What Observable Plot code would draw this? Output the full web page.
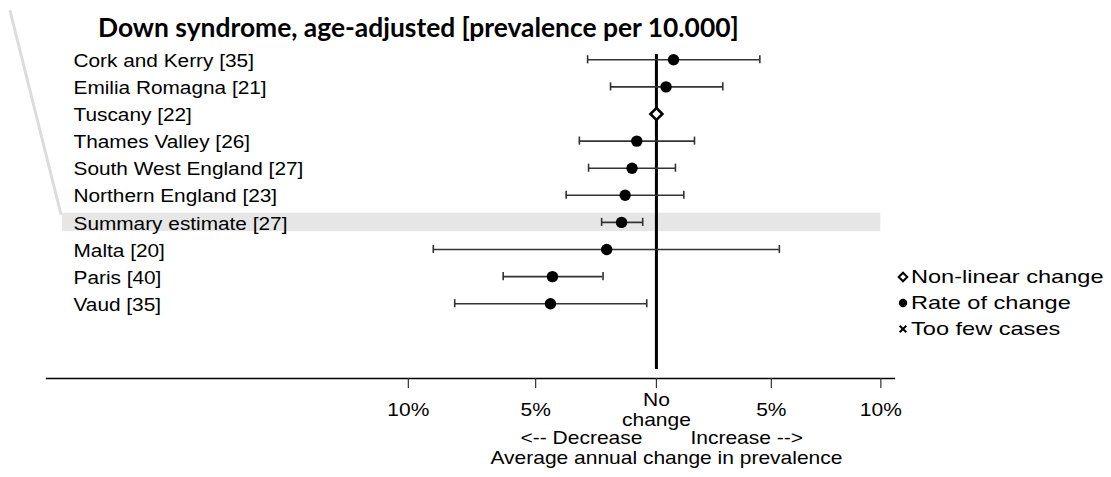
<!DOCTYPE html>
<html>
<head>
<meta charset="utf-8">
<script src="https://cdn.jsdelivr.net/npm/d3@7"></script>
<script src="https://cdn.jsdelivr.net/npm/@observablehq/plot@0.6"></script>
<style>
  body { margin: 0; background: #fff; }
  #wrap { position: relative; width: 1111px; height: 477px; overflow: hidden; }
  #title { position: absolute; left: 98px; top: 11px; font: bold 26.4px Lato, "Open Sans", sans-serif; color: #000; white-space: nowrap; }
  #chart { position: absolute; left: 0; top: 0; }
  #legend { position: absolute; left: 897px; top: 264px; font: 19px "Liberation Sans", Arial, sans-serif; color: #000; }
  #legend .item { height: 26px; display: flex; align-items: center; white-space: nowrap; }
  #legend svg { margin-right: 2px; flex: none; }
  #legend span { display: inline-block; transform: scale(1.24, 1); transform-origin: left center; }
</style>
</head>
<body>
<div id="wrap">
  <div id="chart"></div>
  <div id="title"></div>
  <div id="legend"></div>
</div>
<script>
// ---- data ----
const chartTitle = "Down syndrome, age-adjusted [prevalence per 10.000]";
const regions = [
  "Cork and Kerry [35]", "Emilia Romagna [21]", "Tuscany [22]", "Thames Valley [26]",
  "South West England [27]", "Northern England [23]", "Summary estimate [27]",
  "Malta [20]", "Paris [40]", "Vaud [35]"
];
const estimatePct = [0.73, 0.41, 0.0, -0.83, -1.03, -1.32, -1.47, -2.09, -4.32, -4.40];
const lowerPct    = [-2.88, -1.93, null, -3.22, -2.84, -3.76, -2.30, -9.04, -6.30, -8.21];
const upperPct    = [4.49, 2.86, null, 1.63, 0.81, 1.17, -0.58, 5.36, -2.24, -0.41];
const changeType  = ["Rate of change", "Rate of change", "Non-linear change", "Rate of change",
  "Rate of change", "Rate of change", "Rate of change", "Rate of change", "Rate of change", "Rate of change"];
const summaryRegion = "Summary estimate [27]";
const tickPct = [-10, -5, 0, 5, 10];
const tickLabels = ["10%", "5%", "No\nchange", "5%", "10%"];
const axisTitleLeft = "<-- Decrease";
const axisTitleRight = "Increase -->";
const axisTitle = "Average annual change in prevalence";
const legendItems = ["Non-linear change", "Rate of change", "Too few cases"];
const xDomainPct = [-22.82, 10.64];
const bandPct = [-22.29, 10.0];
const calloutPct = [-24.0, -22.35];
const calloutRow = [-1.78, 5.68];

// ---- helpers ----
const ratio = p => 1 + p / 100;
const rows = regions.map((name, i) => ({
  name, row: i, type: changeType[i],
  est: ratio(estimatePct[i]),
  lo: lowerPct[i] == null ? null : ratio(lowerPct[i]),
  hi: upperPct[i] == null ? null : ratio(upperPct[i])
}));
const ciRows = rows.filter(d => d.lo != null);
const caps = ciRows.flatMap(d => [{row: d.row, x: d.lo}, {row: d.row, x: d.hi}]);
const ticks = tickPct.map((p, i) => ({x: ratio(p), label: tickLabels[i]}));
const summaryRow = rows.find(d => d.name === summaryRegion);
const callout = calloutPct.map((p, i) => ({x: ratio(p), row: calloutRow[i]}));
const capHalf = 0.15;

const font = "'Liberation Sans', Arial, sans-serif";
const axisFont = 17.5;

const chart = Plot.plot({
  width: 1111, height: 477,
  marginLeft: 46, marginRight: 217, marginTop: 54, marginBottom: 99,
  x: {type: "log", domain: xDomainPct.map(ratio), axis: null},
  y: {type: "linear", domain: [0, regions.length - 1], range: [59.3, 303.2], axis: null},
  style: {fontFamily: font, background: "white", overflow: "visible"},
  marks: [
    Plot.line(callout, {x: "x", y: "row", stroke: "#dcdcdc", strokeWidth: 3}),
    Plot.rect([summaryRow], {x1: () => ratio(bandPct[0]), x2: () => ratio(bandPct[1]),
      y1: d => d.row - 0.34, y2: d => d.row + 0.34, fill: "#e6e6e6"}),
    Plot.text(rows, {y: "row", text: "name", frameAnchor: "left", dx: 27, dy: 1.5,
      textAnchor: "start", fontSize: 17.5, fill: "#000"}),
    Plot.ruleX([1], {stroke: "#000", strokeWidth: 3, insetBottom: 9}),
    Plot.ruleY(ciRows, {y: "row", x1: "lo", x2: "hi", stroke: "#333", strokeWidth: 1.6}),
    Plot.ruleX(caps, {x: "x", y1: d => d.row - capHalf, y2: d => d.row + capHalf, stroke: "#333", strokeWidth: 1.6}),
    Plot.dot(rows.filter(d => d.type === "Rate of change"), {x: "est", y: "row", r: 5.7, fill: "#000", stroke: "none"}),
    Plot.dot(rows.filter(d => d.type === "Non-linear change"), {x: "est", y: "row", r: 5.4, symbol: "diamond2", fill: "#fff", stroke: "#000", strokeWidth: 2.6}),
    Plot.frame({anchor: "bottom", stroke: "#000", strokeWidth: 1.3}),
    Plot.axisX({ticks: ticks.map(d => d.x), tickSize: 10, tickFormat: () => "", stroke: "#333", strokeWidth: 1.2}),
    Plot.text(ticks, {x: "x", text: "label", frameAnchor: "bottom",
      dy: 31, lineAnchor: "middle", lineHeight: 1.15, fontSize: axisFont, fill: "#000"}),
    Plot.text([axisTitleLeft], {x: () => 1, text: d => d, frameAnchor: "bottom", dy: 60, dx: -14,
      textAnchor: "end", lineAnchor: "middle", fontSize: axisFont, fill: "#000"}),
    Plot.text([axisTitleRight], {x: () => 1, text: d => d, frameAnchor: "bottom", dy: 60, dx: 34,
      textAnchor: "start", lineAnchor: "middle", fontSize: axisFont, fill: "#000"}),
    Plot.text([axisTitle], {x: () => 1, text: d => d, frameAnchor: "bottom", dy: 80, dx: 10,
      textAnchor: "middle", lineAnchor: "middle", fontSize: axisFont, fill: "#000"})
  ]
});
document.getElementById("chart").appendChild(chart);

// the reference text is stretched horizontally; widen texts around their anchors
const widen = (names, s) => d3.select(chart).selectAll("text")
  .filter(function() { return names.includes(this.textContent); })
  .each(function() {
    const t = this.getAttribute("transform") || "";
    this.setAttribute("transform", t + ` scale(${s},1)`);
  });
widen(regions, 1.19);
widen([...tickLabels, tickLabels[2].replace("\n", ""), axisTitleLeft, axisTitleRight, axisTitle], 1.2);

document.getElementById("title").textContent = chartTitle;

const symbolSvg = {
  "Non-linear change": '<svg width="12" height="12" viewBox="-6 -6 12 12"><path d="M0,-4.3L4.3,0L0,4.3L-4.3,0Z" fill="#fff" stroke="#000" stroke-width="2"/></svg>',
  "Rate of change": '<svg width="12" height="12" viewBox="-6 -6 12 12"><circle r="4.2" fill="#000"/></svg>',
  "Too few cases": '<svg width="12" height="12" viewBox="-6 -6 12 12"><path d="M-3.3,-3.3L3.3,3.3M3.3,-3.3L-3.3,3.3" stroke="#000" stroke-width="2"/></svg>'
};
const legend = d3.select("#legend");
legendItems.forEach(name => {
  const item = legend.append("div").attr("class", "item");
  item.html(symbolSvg[name]);
  item.append("span").text(name);
});
</script>
</body>
</html>
